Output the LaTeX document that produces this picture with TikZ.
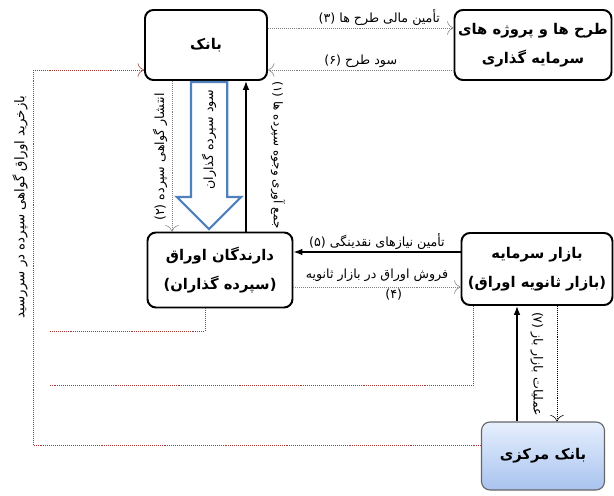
\documentclass[tikz,border=0pt]{standalone}
\usepackage{fontspec}
\usetikzlibrary{arrows.meta,positioning,shapes.arrows}
\newfontfamily\fafont[Script=Arabic]{DejaVu Sans}
\TeXXeTstate=1
\definecolor{linkred}{HTML}{A33A36}
\definecolor{steel}{HTML}{4F81BD}
\definecolor{skytop}{HTML}{E6EFFD}
\definecolor{skybot}{HTML}{A8C3EF}
\newcommand{\fatxt}[1]{\beginR #1\endR}

\begin{document}
\begin{tikzpicture}[
  >=Latex,
  box/.style={draw=black,line width=1.4pt,rounded corners=6pt,fill=white,
    align=center,font=\fafont\bfseries\fontsize{10.5}{21}\selectfont,inner sep=2pt},
  bluebox/.style={box,draw=gray!80!black,line width=0.8pt,
    top color=skytop,bottom color=skybot},
  flow/.style={-{Latex[length=2.2mm]},line width=1.1pt,draw=black},
  thinflow/.style={-{To[length=1.6mm]},densely dotted,draw=gray},
  darkflow/.style={-{To[length=1.6mm]},densely dotted,draw=black},
  loopline/.style={densely dotted,draw=linkred},
  lab/.style={font=\fafont\fontsize{9}{10}\selectfont,inner sep=1.5pt},
  bigarrow/.style={single arrow,draw=steel,line width=1.6pt,fill=white,
    single arrow head extend=0.35cm,inner sep=0pt,inner ysep=0.425cm,
    minimum height=3.675cm}
]
\useasboundingbox (0,0) rectangle (15.35,12.375);
\node[box,minimum width=3.05cm,minimum height=1.75cm] (bank) at (5.15,11.25)
  {\fatxt{بانک}};
\node[box,minimum width=3.925cm,minimum height=1.75cm] (proj) at (13.325,11.25)
  {\fatxt{طرح ها و پروژه های}\\\fatxt{سرمایه گذاری}};
\node[box,minimum width=3.625cm,minimum height=1.875cm] (holders) at (5.5,5.625)
  {\fatxt{دارندگان اوراق}\\\fatxt{(سپرده گذاران)}};
\node[box,minimum width=3.775cm,minimum height=1.8cm] (market) at (13.425,5.65)
  {\fatxt{بازار سرمایه}\\\fatxt{(بازار ثانویه اوراق)}};
\node[bluebox,minimum width=3.075cm,minimum height=1.7cm] (central) at (13.575,0.975)
  {\fatxt{بانک مرکزی}};

% bank and projects
\draw[thinflow] ([yshift=.425cm]bank.east) --
  node[lab,above,pos=.6]{\fatxt{تأمین مالی طرح ها (۳)}} ([yshift=.425cm]proj.west);
\draw[thinflow] ([yshift=-.625cm]proj.west) --
  node[lab,above]{\fatxt{سود طرح (۶)}} ([yshift=-.625cm]bank.east);

% buy-back loop on the left
\coordinate (loopcorner) at (0.825,10.625);
\coordinate (holdtail) at (1.25,4.1);
\coordinate (markettail) at (1.25,2.75);
\draw[loopline,-{To[length=1.6mm]}] ([yshift=.275cm]central.west) -| (loopcorner)
  -- ([yshift=-.625cm]bank.west);
\draw[loopline] ([xshift=-.375cm]holders.south) |- (holdtail);
\draw[loopline] ([xshift=-1.6cm]market.south) |- (markettail);
\node[lab,rotate=90,font=\fafont\fontsize{9.5}{11}\selectfont] (buyback) at (0.5,7.2)
  {\fatxt{بازخرید اوراق گواهی سپرده در سررسید}};

% bank and holders
\draw[thinflow] ([xshift=-.85cm]bank.south) -- ([xshift=-.85cm]bank.south |- holders.north);
\node[lab,rotate=90] (issue) at (4.0,8.45) {\fatxt{انتشار گواهی سپرده (۲)}};
\node[bigarrow,rotate=-90,anchor=tail] (interest) at ([xshift=.075cm]bank.south) {};
\node[lab,rotate=90] (interestlab) at (5.225,8.875) {\fatxt{سود سپرده گذاران}};
\draw[flow] ([xshift=.65cm]holders.north) -- ([xshift=.65cm]holders.north |- bank.south);
\node[lab,rotate=-90,font=\fafont\fontsize{8.5}{10}\selectfont] (collect) at (6.95,8.5)
  {\fatxt{جمع آوری وجوه سپرده ها (۱)}};

% holders and market
\draw[flow] ([yshift=.425cm]market.west) --
  node[lab,above]{\fatxt{تأمین نیازهای نقدینگی (۵)}} ([yshift=.425cm]market.west -| holders.east);
\draw[thinflow] ([yshift=-.425cm]holders.east) --
  node[lab,above=2pt]{\fatxt{فروش اوراق در بازار ثانویه}}
  node[lab,below,pos=.6]{\fatxt{(۴)}} ([yshift=-.425cm]holders.east -| market.west);

% market and central bank
\draw[flow] ([xshift=-.65cm]central.north) -- ([xshift=-.65cm]central.north |- market.south);
\draw[darkflow] ([xshift=.35cm]central.north |- market.south) -- ([xshift=.35cm]central.north);
\node[lab,rotate=-90] (openmkt) at (13.425,3.275) {\fatxt{عملیات بازار باز (۷)}};
\end{tikzpicture}
\end{document}
